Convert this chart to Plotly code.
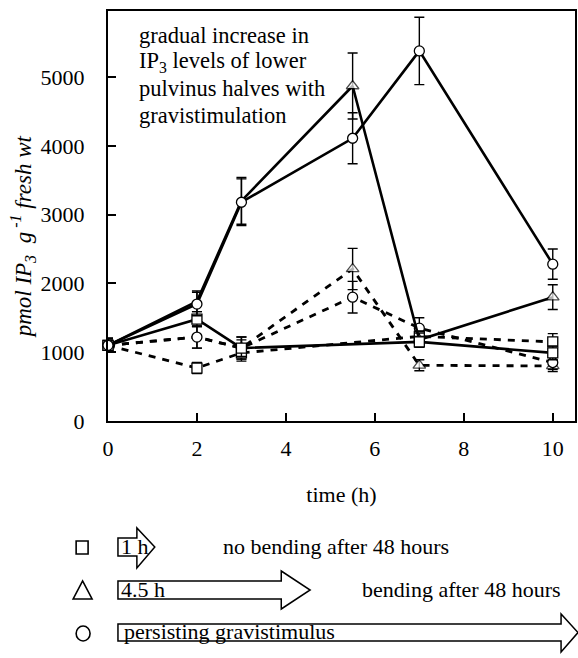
import plotly.graph_objects as go

# ---- data ----
time_all = [0, 2, 3, 5.5, 7, 10]
time_sq = [0, 2, 3, 7, 10]

# lower pulvinus halves (solid lines)
circle_lower = [1100, 1700, 3180, 4110, 5380, 2280]
circle_lower_err = [100, 170, 340, 370, 490, 220]
triangle_lower = [1100, 1740, 3200, 4870, 1180, 1800]
triangle_lower_err = [100, 150, 340, 480, 100, 180]
square_lower = [1100, 1480, 1060, 1150, 990]
square_lower_err = [100, 110, 120, 80, 100]

# upper pulvinus halves (dashed lines)
circle_upper = [1100, 1220, 1060, 1800, 1350, 850]
circle_upper_err = [100, 160, 160, 230, 150, 100]
triangle_upper = [1100, 1220, 1060, 2210, 810, 800]
triangle_upper_err = [100, 160, 160, 300, 80, 80]
square_upper = [1100, 770, 990, 1230, 1150]
square_upper_err = [100, 80, 120, 80, 120]

y_ticks = [0, 1000, 2000, 3000, 4000, 5000]
x_ticks = [0, 2, 4, 6, 8, 10]

inset_lines = ["gradual increase in", "IP<sub>3</sub> levels of lower",
               "pulvinus halves with", "gravistimulation"]

FONT = "'Liberation Serif', 'Times New Roman', Times, serif"

# ---- geometry helpers (pixel -> paper) ----
W, H = 578, 658
ML, MR, MT, MB = 108, 1, 11, 237
PW, PH = W - ML - MR, H - MT - MB


def px(x):
    return (x - ML) / PW


def py(y):
    return (H - MB - y) / PH


fig = go.Figure()


def add_series(x, y, err, symbol, dashed, sizes=None):
    fig.add_trace(go.Scatter(
        x=x, y=y, mode="lines+markers",
        line=dict(color="black", width=2.6 if not dashed else 2.8,
                  dash="7px,7px" if dashed else "solid"),
        marker=dict(symbol=symbol, size=sizes if sizes is not None else 10,
                    color="white", line=dict(color="black", width=1.3)),
        error_y=dict(type="data", array=err, visible=True, color="black",
                     thickness=1.4, width=5),
        cliponaxis=False, showlegend=False,
    ))


# triangle and circle treatments are identical up to 3 h: hide duplicated triangle markers
tri_sizes = [0 if t <= 3 else 11 for t in time_all]

add_series(time_all, triangle_upper, triangle_upper_err, "triangle-up", True, tri_sizes)
add_series(time_all, circle_upper, circle_upper_err, "circle", True)
add_series(time_sq, square_upper, square_upper_err, "square", True)
add_series(time_all, triangle_lower, triangle_lower_err, "triangle-up", False, tri_sizes)
add_series(time_sq, square_lower, square_lower_err, "square", False)
add_series(time_all, circle_lower, circle_lower_err, "circle", False)

# ---- legend drawn as shapes/annotations below the plot ----
shapes = []
shapes.append(dict(type="rect", xref="paper", yref="paper",
                   x0=px(76), x1=px(88), y0=py(541), y1=py(554),
                   line=dict(color="black", width=1.6), fillcolor="white"))
shapes.append(dict(type="path", xref="paper", yref="paper",
                   path=f"M {px(73)},{py(599)} L {px(92)},{py(599)} L {px(82.5)},{py(581)} Z",
                   line=dict(color="black", width=1.6), fillcolor="white"))
shapes.append(dict(type="circle", xref="paper", yref="paper",
                   x0=px(76), x1=px(90), y0=py(626), y1=py(641),
                   line=dict(color="black", width=1.6), fillcolor="white"))


def arrow(x0, xb, xt, yt, yb, ht, hb):
    ym = (yt + yb) / 2
    path = (f"M {px(x0)},{py(yt)} L {px(xb)},{py(yt)} L {px(xb)},{py(ht)} "
            f"L {px(xt)},{py(ym)} L {px(xb)},{py(hb)} L {px(xb)},{py(yb)} "
            f"L {px(x0)},{py(yb)} Z")
    return dict(type="path", xref="paper", yref="paper", path=path,
                line=dict(color="black", width=1.5), fillcolor="white")


shapes.append(arrow(118, 137, 155, 538, 556, 528, 568))
shapes.append(arrow(118, 282, 311, 581, 599, 571, 609))
shapes.append(arrow(118, 563, 580, 624, 641, 614, 652))

TXT = dict(family=FONT, size=22, color="black")
TXT_IN = dict(family=FONT, size=22.5, color="black")
TXT_BOX = dict(family=FONT, size=22, color="black")

annotations = []
for i, line in enumerate(inset_lines):
    annotations.append(dict(text=line, xref="paper", yref="paper",
                            x=px(137), y=py(35 + 26.8 * i), xanchor="left", yanchor="middle",
                            align="left", showarrow=False, font=TXT_IN))

annotations += [
    dict(text="<i>pmol IP<sub>3</sub>  g<sup> -1</sup> fresh wt</i>",
         xref="paper", yref="paper", x=px(22), y=py(237), textangle=-90,
         xanchor="center", yanchor="middle", showarrow=False,
         font=dict(family=FONT, size=23, color="black")),
    dict(text="1 h", xref="paper", yref="paper", x=px(119), y=py(546),
         xanchor="left", yanchor="middle", showarrow=False, font=TXT_BOX),
    dict(text="4.5 h", xref="paper", yref="paper", x=px(119), y=py(589),
         xanchor="left", yanchor="middle", showarrow=False, font=TXT_BOX),
    dict(text="persisting gravistimulus", xref="paper", yref="paper", x=px(122), y=py(631),
         xanchor="left", yanchor="middle", showarrow=False, font=TXT_BOX),
    dict(text="no bending after 48 hours", xref="paper", yref="paper", x=px(221), y=py(546),
         xanchor="left", yanchor="middle", showarrow=False, font=TXT),
    dict(text="bending after 48 hours", xref="paper", yref="paper", x=px(361), y=py(589),
         xanchor="left", yanchor="middle", showarrow=False, font=TXT),
]

fig.update_layout(
    width=W, height=H,
    margin=dict(l=ML, r=MR, t=MT, b=MB, pad=0),
    paper_bgcolor="white", plot_bgcolor="white",
    font=TXT,
    shapes=shapes, annotations=annotations,
    xaxis=dict(range=[0, 10.5], tickvals=x_ticks, ticks="inside", ticklen=8,
               tickwidth=1.5, tickcolor="black", showline=True, linecolor="black",
               linewidth=2, mirror=True, showgrid=False, zeroline=False,
               ticklabelstandoff=7, tickfont=TXT,
               title=dict(text="time (h)", standoff=26, font=TXT)),
    yaxis=dict(range=[0, 5960], tickvals=y_ticks, ticks="inside", ticklen=8,
               tickwidth=1.5, tickcolor="black", showline=True, linecolor="black",
               linewidth=2, mirror=True, showgrid=False, zeroline=False,
               ticklabelstandoff=17, tickfont=TXT),
)

fig.write_html("out.html")
